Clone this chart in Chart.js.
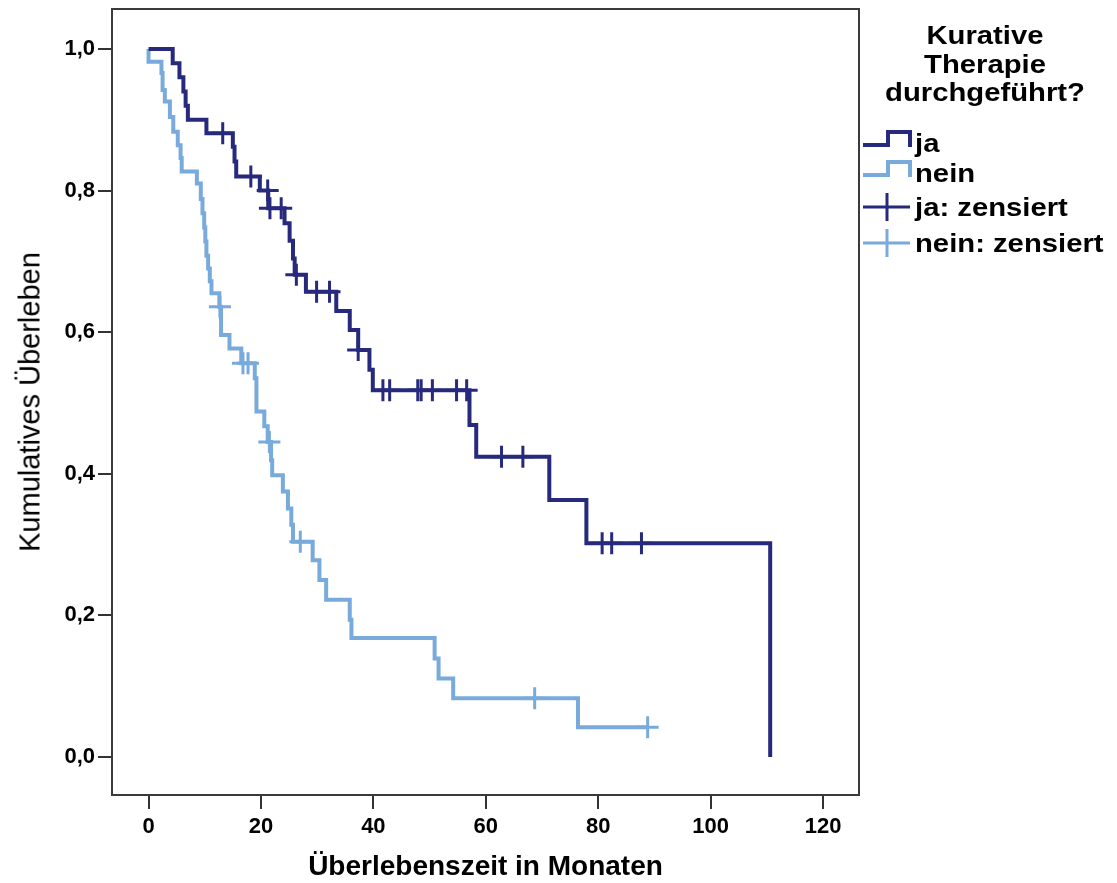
<!DOCTYPE html>
<html>
<head>
<meta charset="utf-8">
<script src="https://cdn.jsdelivr.net/npm/chart.js@4/dist/chart.umd.min.js"></script>
<style>
  body { margin: 0; background: #fff; }
  #wrap { position: relative; width: 1117px; height: 883px; font-family: 'Liberation Sans', Arial, sans-serif; color: #000; }
  #km { position: absolute; left: 0; top: 0; }
  .title-x { position: absolute; left: 112px; width: 747px; top: 850px; text-align: center; font-weight: bold; font-size: 28px; line-height: 32px; }
  .title-y { position: absolute; left: 30px; top: 402px; font-size: 29px; white-space: nowrap; transform: translate(-50%, -50%) rotate(-90deg); }
  #legend { position: absolute; left: 860px; top: 0; width: 257px; height: 280px; }
  .lg-title { position: absolute; left: 0; width: 250px; text-align: center; font-weight: bold; font-size: 25px; line-height: 28px; transform: scaleX(1.17); }
  .lg-item { position: absolute; left: 0; height: 32px; }
  .lg-item svg { position: absolute; left: 2px; top: 0; }
  .lg-item span { position: absolute; left: 55px; top: 2px; font-weight: bold; font-size: 25px; line-height: 28px; white-space: nowrap; transform: scaleX(1.17); transform-origin: left center; }
</style>
</head>
<body>
<div id="wrap">
  <canvas id="km" width="1117" height="883"></canvas>
  <div class="title-x">Überlebenszeit in Monaten</div>
  <div class="title-y">Kumulatives Überleben</div>
  <div id="legend"></div>
</div>
<script>
// Kaplan-Meier: Zeit (Monate) und kumulatives Ueberleben nach jedem Ereignis
const jaTimes = [0, 4.3, 5.5, 6.2, 6.6, 7.0, 10.3, 15.0, 15.3, 15.6, 19.8, 21.3, 24.2, 25.1, 25.7, 26.0, 28.0, 33.4, 35.8, 37.3, 39.3, 39.9, 57.1, 58.3, 71.3, 77.9, 110.6];
const jaSurvival = [1.0, 0.980, 0.960, 0.940, 0.920, 0.900, 0.881, 0.862, 0.841, 0.820, 0.800, 0.775, 0.754, 0.729, 0.704, 0.681, 0.657, 0.630, 0.603, 0.575, 0.547, 0.518, 0.469, 0.424, 0.363, 0.302, 0.0];

const neinTimes = [0, 0, 2.3, 2.5, 2.9, 3.8, 4.4, 5.2, 5.7, 5.9, 8.6, 9.3, 9.6, 9.9, 10.1, 10.3, 10.6, 10.9, 11.2, 12.6, 12.9, 14.4, 16.5, 18.9, 19.2, 20.6, 21.2, 21.8, 22.0, 23.9, 24.8, 25.4, 25.7, 29.2, 30.4, 31.6, 35.8, 36.1, 50.9, 51.6, 54.2, 76.4, 88.8];
const neinSurvival = [1.0, 0.982, 0.966, 0.942, 0.926, 0.904, 0.883, 0.864, 0.846, 0.827, 0.810, 0.788, 0.768, 0.748, 0.728, 0.708, 0.690, 0.672, 0.655, 0.636, 0.596, 0.577, 0.556, 0.535, 0.488, 0.467, 0.445, 0.419, 0.398, 0.375, 0.351, 0.328, 0.304, 0.278, 0.250, 0.222, 0.194, 0.168, 0.139, 0.111, 0.083, 0.042, 0.042];

// zensierte Faelle
const jaCensorTimes = [13.2, 18.2, 21.2, 21.6, 23.6, 26.3, 29.9, 32.2, 37.3, 41.7, 42.9, 47.9, 48.5, 50.5, 54.8, 56.6, 62.8, 66.6, 80.7, 82.4, 87.7];
const jaCensorSurvival = [0.881, 0.820, 0.800, 0.775, 0.775, 0.681, 0.657, 0.657, 0.575, 0.518, 0.518, 0.518, 0.518, 0.518, 0.518, 0.518, 0.424, 0.424, 0.302, 0.302, 0.302];
const neinCensorTimes = [12.7, 16.8, 17.7, 21.5, 27.0, 68.7, 88.8];
const neinCensorSurvival = [0.636, 0.556, 0.556, 0.445, 0.304, 0.083, 0.042];

const xTicks = [0, 20, 40, 60, 80, 100, 120];
const yTicks = [0, 0.2, 0.4, 0.6, 0.8, 1.0];

const JA_COLOR = '#272a7c';
const NEIN_COLOR = '#78aadb';

function toPoints(xs, ys) {
  return xs.map((x, i) => ({ x: x, y: ys[i] }));
}

const framePlugin = {
  id: 'frame',
  afterDraw(chart) {
    const a = chart.chartArea;
    const ctx = chart.ctx;
    ctx.save();
    ctx.strokeStyle = '#3a3a3a';
    ctx.lineWidth = 2;
    ctx.strokeRect(a.left, a.top, a.right - a.left, a.bottom - a.top);
    ctx.restore();
  }
};

const tickFont = { family: "'Liberation Sans', Arial, sans-serif", size: 22, weight: 'bold' };

// the tick labels must not push the plot frame inwards
function noEdgePadding(s) {
  s.paddingTop = 0; s.paddingBottom = 0; s.paddingLeft = 0; s.paddingRight = 0;
}

new Chart(document.getElementById('km'), {
  type: 'line',
  data: {
    datasets: [
      { label: 'ja', data: toPoints(jaTimes, jaSurvival), stepped: 'before', borderColor: JA_COLOR, borderWidth: 4, pointRadius: 0, fill: false },
      { label: 'nein', data: toPoints(neinTimes, neinSurvival), stepped: 'before', borderColor: NEIN_COLOR, borderWidth: 4, pointRadius: 0, fill: false },
      { label: 'ja: zensiert', data: toPoints(jaCensorTimes, jaCensorSurvival), showLine: false, pointStyle: 'cross', pointRadius: 11, pointBorderWidth: 3, borderColor: JA_COLOR, pointBorderColor: JA_COLOR },
      { label: 'nein: zensiert', data: toPoints(neinCensorTimes, neinCensorSurvival), showLine: false, pointStyle: 'cross', pointRadius: 11, pointBorderWidth: 3, borderColor: NEIN_COLOR, pointBorderColor: NEIN_COLOR }
    ]
  },
  options: {
    responsive: false,
    animation: false,
    devicePixelRatio: 1,
    layout: { autoPadding: false, padding: { left: 0, top: 9, right: 258, bottom: 0 } },
    plugins: { legend: { display: false }, tooltip: { enabled: false } },
    elements: { line: { tension: 0 } },
    scales: {
      x: {
        type: 'linear',
        min: -6.5,
        max: 126.4,
        afterBuildTicks: (s) => { s.ticks = xTicks.map(v => ({ value: v })); },
        afterFit: (s) => { s.height = 88; noEdgePadding(s); },
        border: { display: false },
        grid: { drawOnChartArea: false, drawTicks: true, tickLength: 14, color: '#333', lineWidth: 2 },
        ticks: { font: tickFont, color: '#000', padding: 5, maxRotation: 0, callback: (v) => String(v) }
      },
      y: {
        type: 'linear',
        min: -0.0537,
        max: 1.0565,
        afterBuildTicks: (s) => { s.ticks = yTicks.map(v => ({ value: v })); },
        afterFit: (s) => { s.width = 112; noEdgePadding(s); },
        border: { display: false },
        grid: { drawOnChartArea: false, drawTicks: true, tickLength: 14, color: '#333', lineWidth: 2 },
        ticks: { font: tickFont, color: '#000', padding: 3, callback: (v) => v.toFixed(1).replace('.', ',') }
      }
    }
  },
  plugins: [framePlugin]
});

// Legende
const legendTitle = ['Kurative', 'Therapie', 'durchgeführt?'];
const legendItems = [
  { text: 'ja', color: JA_COLOR, kind: 'step' },
  { text: 'nein', color: NEIN_COLOR, kind: 'step' },
  { text: 'ja: zensiert', color: JA_COLOR, kind: 'cross' },
  { text: 'nein: zensiert', color: NEIN_COLOR, kind: 'cross' }
];
const legendTops = [127, 157, 191, 227];

const legend = document.getElementById('legend');
legendTitle.forEach((line, i) => {
  const d = document.createElement('div');
  d.className = 'lg-title';
  d.style.top = (21 + i * 28.5) + 'px';
  d.textContent = line;
  legend.appendChild(d);
});
legendItems.forEach((item, i) => {
  const d = document.createElement('div');
  d.className = 'lg-item';
  d.style.top = legendTops[i] + 'px';
  let icon;
  if (item.kind === 'step') {
    icon = `<svg width="52" height="32"><polyline points="1,18 26,18 26,5 48,5 48,20" fill="none" stroke="${item.color}" stroke-width="4"/></svg>`;
  } else {
    icon = `<svg width="52" height="32"><line x1="1" y1="16" x2="48" y2="16" stroke="${item.color}" stroke-width="3"/><line x1="25" y1="2" x2="25" y2="30" stroke="${item.color}" stroke-width="3"/></svg>`;
  }
  d.innerHTML = icon + `<span>${item.text}</span>`;
  legend.appendChild(d);
});
</script>
</body>
</html>
